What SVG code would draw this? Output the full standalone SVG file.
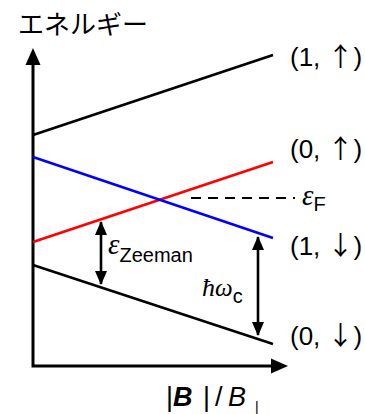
<svg xmlns="http://www.w3.org/2000/svg" width="365" height="414" viewBox="0 0 365 414">
<style>
.t{font-family:"Liberation Sans","Noto Sans CJK JP",sans-serif;fill:#000}
.jp{font-family:"Noto Sans CJK JP",sans-serif;fill:#000}
.m{font-family:"Liberation Serif","DejaVu Serif",serif;font-style:italic;fill:#000}
.ax{stroke:#000;stroke-width:3;fill:none}
.ln{stroke-width:2.6;fill:none}
.ar{stroke:#000;stroke-width:2.6;fill:none}
</style>
<defs>
<marker id="ah" viewBox="0 0 14 12" refX="13" refY="6" markerWidth="14" markerHeight="12" markerUnits="userSpaceOnUse" orient="auto-start-reverse">
<path d="M0,0 L14,6 L0,12 Z" fill="#000"/>
</marker>
</defs>
<rect width="365" height="414" fill="#fff"/>
<g id="axes">
<text class="jp" x="18" y="34" font-size="26">エネルギー</text>
<path class="ax" d="M33,64 V366 H273"/>
<path d="M33,48 L25.5,65 L40.5,65 Z" fill="#000"/>
<path d="M288,366 L271,358.5 L271,373.5 Z" fill="#000"/>
<text class="t" y="406" font-size="27"><tspan x="166">|</tspan><tspan x="173" font-weight="bold" font-style="italic">B</tspan><tspan x="203">|</tspan><tspan x="215">/</tspan><tspan x="228" font-style="italic">B</tspan></text>
<text class="t" x="255" y="412" font-size="14">|</text>
</g>
<g id="level-1-up">
<line class="ln" stroke="#000" x1="33" y1="135" x2="273" y2="55"/>
<text class="t" x="290" y="66" font-size="26">(1, <tspan class="jp">↑</tspan>)</text>
</g>
<g id="level-0-up">
<line class="ln" stroke="#f00" x1="33" y1="242" x2="273" y2="162"/>
<text class="t" x="290" y="158" font-size="26">(0, <tspan class="jp">↑</tspan>)</text>
</g>
<g id="level-1-down">
<line class="ln" stroke="#00f" x1="33" y1="157" x2="273" y2="238"/>
<text class="t" x="290" y="255" font-size="26">(1, <tspan class="jp">↓</tspan>)</text>
</g>
<g id="level-0-down">
<line class="ln" stroke="#000" x1="33" y1="265" x2="273" y2="344"/>
<text class="t" x="290" y="345" font-size="26">(0, <tspan class="jp">↓</tspan>)</text>
</g>
<g id="fermi">
<line x1="191" y1="198" x2="295" y2="198" stroke="#000" stroke-width="2.2" stroke-dasharray="10 7"/>
<text x="302" y="205"><tspan class="m" font-size="29">ε</tspan><tspan class="t" font-size="20" dy="6">F</tspan></text>
</g>
<g id="connectors">
<line class="ar" x1="101" y1="222" x2="101" y2="284" marker-start="url(#ah)" marker-end="url(#ah)"/>
<line class="ar" x1="258" y1="335" x2="258" y2="237" marker-start="url(#ah)" marker-end="url(#ah)"/>
</g>
<g id="labels">
<text x="108" y="254"><tspan class="m" font-size="29">ε</tspan><tspan class="t" font-size="20" dy="8">Zeeman</tspan></text>
<text x="202" y="296"><tspan class="m" font-size="26">ħ</tspan><tspan class="m" font-size="25" font-style="normal">ω</tspan><tspan class="t" font-size="20" dy="7">c</tspan></text>
</g>
</svg>
